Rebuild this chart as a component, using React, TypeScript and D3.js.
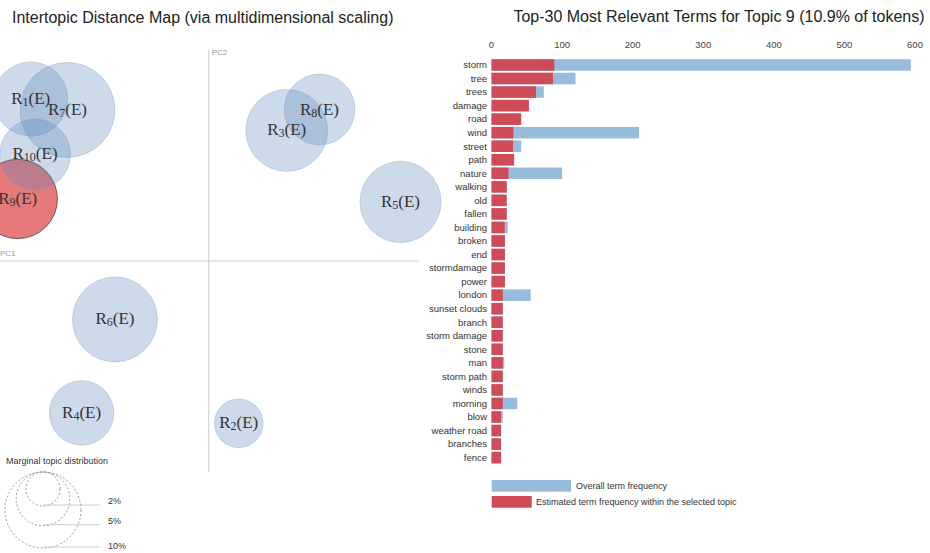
import React from "react";
import * as d3 from "d3";

const topicIds = [1, 2, 3, 4, 5, 6, 7, 8, 9, 10];
const topicPC1 = [-0.853, 0.144, 0.374, -0.609, 0.919, -0.449, -0.677, 0.531, -0.915, -0.832];
const topicPC2 = [0.768, -0.769, 0.619, -0.72, 0.28, -0.277, 0.716, 0.718, 0.294, 0.505];
const topicPct = [9.5, 4.1, 11.6, 7.2, 11.4, 12.5, 15.6, 8.7, 10.9, 8.7];
const selectedTopic = 9;

const terms = [
  "storm", "tree", "trees", "damage", "road", "wind", "street", "path", "nature", "walking",
  "old", "fallen", "building", "broken", "end", "stormdamage", "power", "london", "sunset clouds", "branch",
  "storm damage", "stone", "man", "storm path", "winds", "morning", "blow", "weather road", "branches", "fence",
];
const overallFreq = [594, 119, 74, 53, 42, 209, 42, 32, 100, 21.5, 21.5, 21.5, 23, 19, 19, 19, 19, 55.5, 16, 16, 16, 16, 18, 16, 16, 36.5, 16, 13.5, 13.5, 13.5];
const topicFreq = [89, 87, 63, 53, 42, 31, 30.5, 32, 24, 21.5, 21.5, 21.5, 18.7, 19, 19, 19, 19, 16, 16, 16, 16, 16, 16, 16, 16, 16, 13.5, 13.5, 13.5, 13.5];
const xTicks = [0, 100, 200, 300, 400, 500, 600];
const legendPct = [2, 5, 10];

const SANS = "'Liberation Sans', Arial, sans-serif";
const SERIF = "'Liberation Serif', 'DejaVu Serif', serif";

export default function App() {
  const W = 930, H = 553;
  const px = d3.scaleLinear().domain([-1, 1]).range([0, 417.4]);
  const py = d3.scaleLinear().domain([-1, 1]).range([472, 50]);
  const r = d3.scaleSqrt().domain([0, 10]).range([0, 38]);

  const bx = d3.scaleLinear().domain([0, 600]).range([491.5, 915]);
  const by = d3.scaleBand<string>().domain(terms).range([58.2, 464.4]).paddingInner(0.15).paddingOuter(0.075);

  const legCx = 43, legTop = 472;

  return (
    <svg width={W} height={H} style={{ position: "absolute", left: 0, top: 0, background: "#fff" }}>
      {/* Titles */}
      <text x={12} y={23} fontFamily={SANS} fontSize={16} fill="#222">Intertopic Distance Map (via multidimensional scaling)</text>
      <text x={719} y={22} textAnchor="middle" fontFamily={SANS} fontSize={16} fill="#222">Top-30 Most Relevant Terms for Topic 9 (10.9% of tokens)</text>

      {/* MDS axes */}
      <line x1={px(0)} x2={px(0)} y1={py(1)} y2={py(-1)} stroke="#ccc" strokeWidth={1} />
      <line x1={0} x2={419} y1={py(0)} y2={py(0)} stroke="#ccc" strokeWidth={1} />
      <text x={px(0) + 3} y={py(1) + 5} fontFamily={SANS} fontSize={8} fill="#999">PC2</text>
      <text x={0} y={py(0) - 5} fontFamily={SANS} fontSize={8} fill="#999">PC1</text>

      {/* Topic circles */}
      {topicIds.map((id, i) => {
        const sel = id === selectedTopic;
        return (
          <circle key={"c" + id} cx={px(topicPC1[i])} cy={py(topicPC2[i])} r={r(topicPct[i])}
            fill={sel ? "#d62728" : "#5b83b8"} fillOpacity={sel ? 0.62 : 0.3}
            stroke={sel ? "#333" : "#7d9cc6"} strokeOpacity={sel ? 0.7 : 0.35} strokeWidth={1} />
        );
      })}
      {topicIds.map((id, i) => (
        <text key={"t" + id} x={px(topicPC1[i])} y={py(topicPC2[i]) + 5} textAnchor="middle"
          fontFamily={SERIF} fontSize={17} fill="#333">
          R<tspan fontSize={12} dy={2}>{id}</tspan><tspan dy={-2}>(E)</tspan>
        </text>
      ))}

      {/* Marginal legend */}
      <text x={6} y={464} fontFamily={SANS} fontSize={9} fill="#333">Marginal topic distribution</text>
      {legendPct.map((p) => {
        const rr = r(p);
        return (
          <g key={"l" + p}>
            <circle cx={legCx} cy={legTop + rr} r={rr} fill="none" stroke="#999" strokeDasharray="2 2" strokeWidth={1} />
            <line x1={legCx} x2={100} y1={legTop + 2 * rr - 1} y2={legTop + 2 * rr - 1} stroke="#ccc" strokeWidth={1} />
            <text x={108} y={legTop + 2 * rr - 1} fontFamily={SANS} fontSize={9} fill="#333" dy={p === 2 ? -0.5 : (p === 5 ? -1 : 2)}>{p}%</text>
          </g>
        );
      })}

      {/* Bar chart */}
      {xTicks.map((t) => (
        <text key={"x" + t} x={bx(t)} y={48} textAnchor="middle" fontFamily={SANS} fontSize={9.5} fill="#444">{t}</text>
      ))}
      {terms.map((t, i) => (
        <rect key={"o" + t} x={bx(0)} y={by(t)} width={bx(overallFreq[i]) - bx(0)} height={by.bandwidth()} fill="#98bcdc" />
      ))}
      {terms.map((t, i) => (
        <rect key={"e" + t} x={bx(0)} y={by(t)} width={bx(topicFreq[i]) - bx(0)} height={by.bandwidth()} fill="#cf4b57" />
      ))}
      {terms.map((t) => (
        <text key={"n" + t} x={487} y={(by(t) as number) + by.bandwidth() / 2} dy="0.35em" textAnchor="end"
          fontFamily={SANS} fontSize={9.5} fill="#333">{t}</text>
      ))}

      {/* Bar legend */}
      <rect x={491.7} y={480} width={79.3} height={11.7} fill="#98bcdc" />
      <text x={576} y={486} dy="0.35em" fontFamily={SANS} fontSize={9} fill="#333">Overall term frequency</text>
      <rect x={491.7} y={496} width={40} height={11.7} fill="#cf4b57" />
      <text x={536} y={502} dy="0.35em" fontFamily={SANS} fontSize={9} fill="#333">Estimated term frequency within the selected topic</text>
    </svg>
  );
}
